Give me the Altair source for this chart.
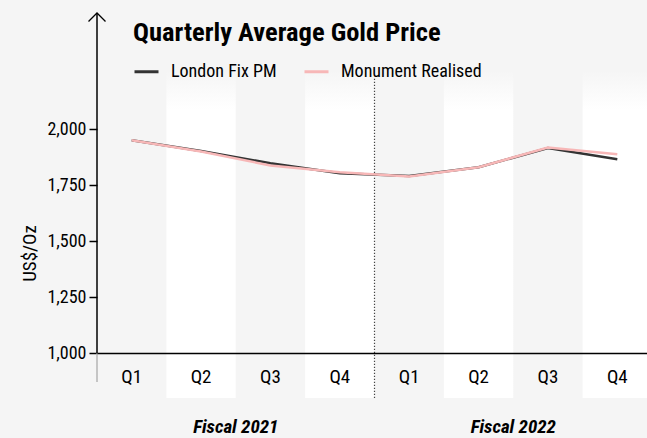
import altair as alt
import pandas as pd

# ---- data ----
periods = ["Fiscal 2021 Q1", "Fiscal 2021 Q2", "Fiscal 2021 Q3", "Fiscal 2021 Q4",
           "Fiscal 2022 Q1", "Fiscal 2022 Q2", "Fiscal 2022 Q3", "Fiscal 2022 Q4"]
london_fix = [1951, 1903, 1848, 1803, 1791, 1830, 1916, 1866]
realised = [1951, 1900, 1838, 1808, 1789, 1830, 1918, 1888]
series_names = ["London Fix PM", "Monument Realised"]
series_colors = ["#333333", "#f7b7b7"]
white_columns = ["Fiscal 2021 Q2", "Fiscal 2021 Q4", "Fiscal 2022 Q2", "Fiscal 2022 Q4"]
fiscal_labels = ["Fiscal 2021", "Fiscal 2022"]
fiscal_anchor = ["Fiscal 2021 Q2", "Fiscal 2022 Q2"]
y_ticks = [1000, 1250, 1500, 1750, 2000]

lines_df = pd.DataFrame({
    "period": periods * 2,
    "series": [series_names[0]] * len(periods) + [series_names[1]] * len(periods),
    "price": london_fix + realised,
})
bands_df = pd.DataFrame({"period": white_columns})
fiscal_df = pd.DataFrame({"period": fiscal_anchor, "label": fiscal_labels})

FONT = "Roboto Condensed, Liberation Sans Narrow, Roboto, sans-serif"
BG = "#f5f5f5"
W, H = 555, 385

x_scale = alt.Scale(domain=periods, paddingInner=0, paddingOuter=0)
y_scale = alt.Scale(domain=[800, 2518.75], nice=False, zero=False)

x_axis = alt.Axis(
    title=None, orient="bottom", offset=-45, labelAngle=0, ticks=False,
    labelExpr="split(datum.label, ' ')[2]", labelFontSize=19, labelPadding=14,
    labelColor="black", domainColor="black", domainWidth=1.5, grid=False,
)
y_axis = alt.Axis(
    title="US$/Oz", values=y_ticks, format=",.0f", domain=False, grid=False,
    tickColor="black", tickSize=8, tickWidth=1.5, labelFontSize=18,
    labelColor="black", labelPadding=3, titleFontSize=19, titleFontWeight="normal",
    titleColor="black", titleX=-67.5, titleY=240, titleBaseline="middle", titleAngle=270,
)

base_x = alt.X("period:N", scale=x_scale, axis=x_axis, sort=periods)

bands = alt.Chart(bands_df).mark_rect(
    fill=alt.Gradient(
        gradient="linear", x1=0, x2=0, y1=0, y2=1,
        stops=[alt.GradientStop(offset=0, color=BG),
               alt.GradientStop(offset=0.12, color="#ffffff")],
    )
).encode(
    x=base_x,
    y=alt.datum(2263),
    y2=alt.datum(800),
)

divider = alt.Chart().mark_rule(color="#444444", strokeDash=[1.2, 1.8], strokeWidth=1.2).encode(
    x=alt.XDatum("Fiscal 2022 Q1", bandPosition=0),
    y=alt.datum(2225),
    y2=alt.datum(800),
)

lines = alt.Chart(lines_df).mark_line(strokeWidth=2.5).encode(
    x=base_x,
    y=alt.Y("price:Q", scale=y_scale, axis=y_axis),
    color=alt.Color(
        "series:N",
        scale=alt.Scale(domain=series_names, range=series_colors),
        sort=series_names,
        legend=alt.Legend(
            title=None, orient="none", legendX=36, legendY=45, direction="horizontal",
            symbolType="stroke", symbolSize=576, symbolStrokeWidth=3,
            labelFontSize=18, labelColor="black", labelOffset=11, columnPadding=21,
        ),
    ),
    order=alt.Order("series:N"),
)

y_line = alt.Chart().mark_rule(color="black", strokeWidth=1.5).encode(
    x=alt.value(0), y=alt.datum(1000), y2=alt.datum(2518.75)
)
y_line_ext = alt.Chart().mark_rule(color="#b5b5b5", strokeWidth=1.5).encode(
    x=alt.value(0), y=alt.datum(1000), y2=alt.datum(871)
)
arrow = alt.Chart().mark_point(
    shape="M-1,1L0,0L1,1", filled=False, size=289, strokeWidth=1.3, color="black", opacity=1
).encode(x=alt.value(0), y=alt.datum(2518.75))

fiscal = alt.Chart(fiscal_df).mark_text(
    fontSize=19, fontWeight="bold", fontStyle="italic", color="black", baseline="middle"
).encode(
    x=alt.X("period:N", scale=x_scale, axis=x_axis, sort=periods, bandPosition=1),
    y=alt.value(414),
    text="label:N",
)

chart = alt.layer(bands, divider, lines, y_line_ext, y_line, arrow, fiscal).properties(
    width=W, height=H,
    title=alt.TitleParams(
        "Quarterly Average Gold Price", anchor="start", dx=36, dy=4, offset=-32,
        fontSize=26.5, fontWeight="bold", color="black", frame="group",
    ),
    padding={"left": 89, "top": 5, "right": -5, "bottom": 40},
    autosize=alt.AutoSizeParams(type="none"),
).configure(
    font=FONT, background=BG
).configure_view(stroke=None)

page_css = (
    "html, body { background: #f5f5f5; overflow: hidden; } "
    "body { margin: 8px 0 0 8px; } "
    ".vega-embed { position: relative; display: inline-block; box-sizing: border-box; }"
)

chart.save("out.html", embed_options={"renderer": "svg", "actions": False, "defaultStyle": page_css})
